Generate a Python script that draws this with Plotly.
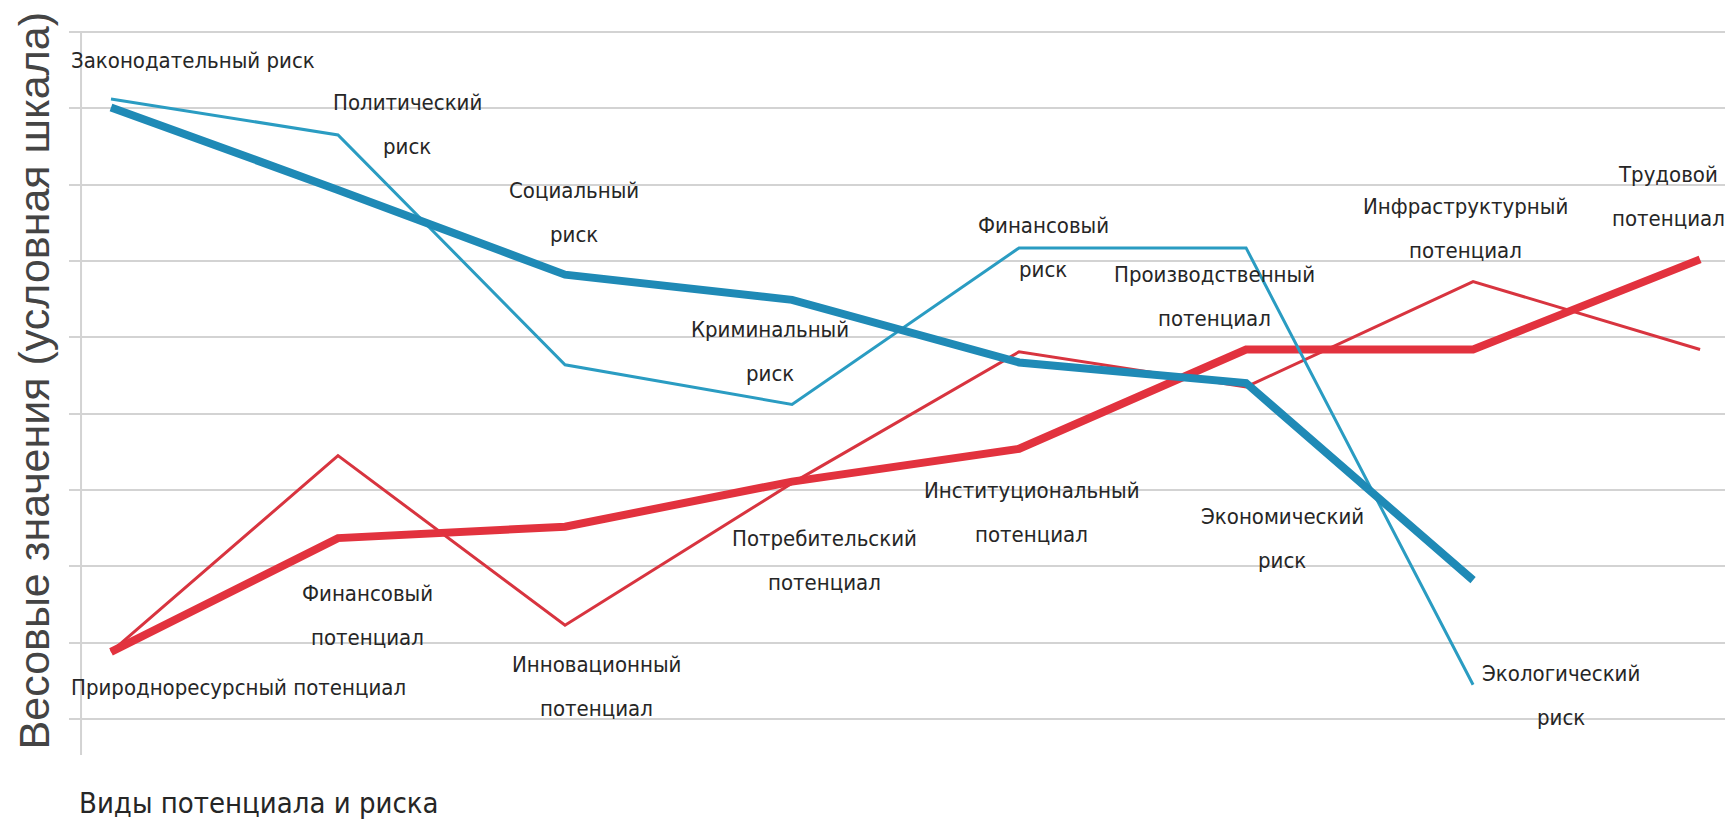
import plotly.graph_objects as go

# ---- data ----
risk_x = [0, 1, 2, 3, 4, 5, 6]
risk_values = [8.12, 7.65, 4.64, 4.12, 6.17, 6.17, 0.45]
risk_trend = [8.01, 6.93, 5.82, 5.49, 4.67, 4.40, 1.82]

pot_x = [0, 1, 2, 3, 4, 5, 6, 7]
pot_values = [0.88, 3.45, 1.23, 3.09, 4.81, 4.35, 5.73, 4.84]
pot_trend = [0.88, 2.37, 2.52, 3.11, 3.54, 4.84, 4.84, 6.02]

risk_names = ["Законодательный риск", "Политический\nриск", "Социальный\nриск",
              "Криминальный\nриск", "Финансовый\nриск", "Экономический\nриск",
              "Экологический\nриск"]
pot_names = ["Природноресурсный потенциал", "Финансовый\nпотенциал",
             "Инновационный\nпотенциал", "Потребительский\nпотенциал",
             "Институциональный\nпотенциал", "Производственный\nпотенциал",
             "Инфраструктурный\nпотенциал", "Трудовой\nпотенциал"]

grid_levels = list(range(10))

x_title = "Виды потенциала и риска"
y_title = "Весовые значения (условная шкала)"

# ---- label placement (layout; x in data units, None = left edge of plot) ----
risk_label_pos = [(None, 8.62), (1.304, 7.78), (2.040, 6.64), (2.903, 4.81),
                  (4.106, 6.18), (5.159, 2.36), (6.388, 0.31)]
pot_label_pos = [(None, 0.42), (1.132, 1.36), (2.137, 0.43), (3.141, 2.08),
                 (4.057, 2.71), (4.859, 5.54), (5.965, 6.42), (6.859, 6.84)]

BLUE_THIN = "#2a9cc2"
BLUE_THICK = "#1f8ab6"
RED_THIN = "#d8343f"
RED_THICK = "#e2323e"
LABEL_FONT = "Liberation Sans Narrow, DejaVu Sans Condensed, sans-serif"
TEXT_COLOR = "#262626"

fig = go.Figure()
fig.add_trace(go.Scatter(x=pot_x, y=pot_values, mode="lines",
                         line=dict(color=RED_THIN, width=3), hoverinfo="skip"))
fig.add_trace(go.Scatter(x=pot_x, y=pot_trend, mode="lines",
                         line=dict(color=RED_THICK, width=8), hoverinfo="skip"))
fig.add_trace(go.Scatter(x=risk_x, y=risk_values, mode="lines",
                         line=dict(color=BLUE_THIN, width=3), hoverinfo="skip"))
fig.add_trace(go.Scatter(x=risk_x, y=risk_trend, mode="lines",
                         line=dict(color=BLUE_THICK, width=8), hoverinfo="skip"))

annotations = []
for names, positions in ((risk_names, risk_label_pos), (pot_names, pot_label_pos)):
    for name, (ax, ay) in zip(names, positions):
        lines = name.split("\n")
        n = len(lines)
        for i, ln in enumerate(lines):
            a = dict(y=ay, yref="y", text=ln, showarrow=False, yanchor="middle",
                     yshift=((n - 1) / 2 - i) * 44,
                     font=dict(family=LABEL_FONT, size=22, color=TEXT_COLOR))
            if ax is None:
                a.update(x=0, xref="paper", xanchor="left")
            else:
                a.update(x=ax, xref="x", xanchor="center")
            annotations.append(a)

annotations.append(dict(x=-0.021, y=0.514, xref="paper", yref="paper", text=y_title,
                        textangle=-90, showarrow=False, xanchor="center", yanchor="middle",
                        font=dict(family="Liberation Sans, Arial, sans-serif", size=43,
                                  color="#444444")))
annotations.append(dict(x=0.005, y=-0.066, xref="paper", yref="paper", text=x_title,
                        showarrow=False, xanchor="left", yanchor="middle",
                        font=dict(family=LABEL_FONT, size=29, color=TEXT_COLOR)))

fig.update_layout(
    width=1725, height=817,
    margin=dict(l=61, r=0, t=20, b=70),
    plot_bgcolor="white", paper_bgcolor="white",
    showlegend=False,
    annotations=annotations,
    shapes=[dict(type="line", xref="x", yref="y", x0=-0.132, x1=-0.132,
                 y0=-0.47, y1=9.0, line=dict(color="#d3d3d3", width=2), layer="below")],
)
fig.update_xaxes(range=[-0.185, 7.145], showgrid=False, zeroline=False,
                 showticklabels=False, showline=False)
fig.update_yaxes(range=[-0.47, 9.05], tickvals=grid_levels, showticklabels=False,
                 showgrid=True, gridcolor="#d3d3d3", gridwidth=2, zeroline=False,
                 showline=False, ticks="")

fig.write_html("out.html")
